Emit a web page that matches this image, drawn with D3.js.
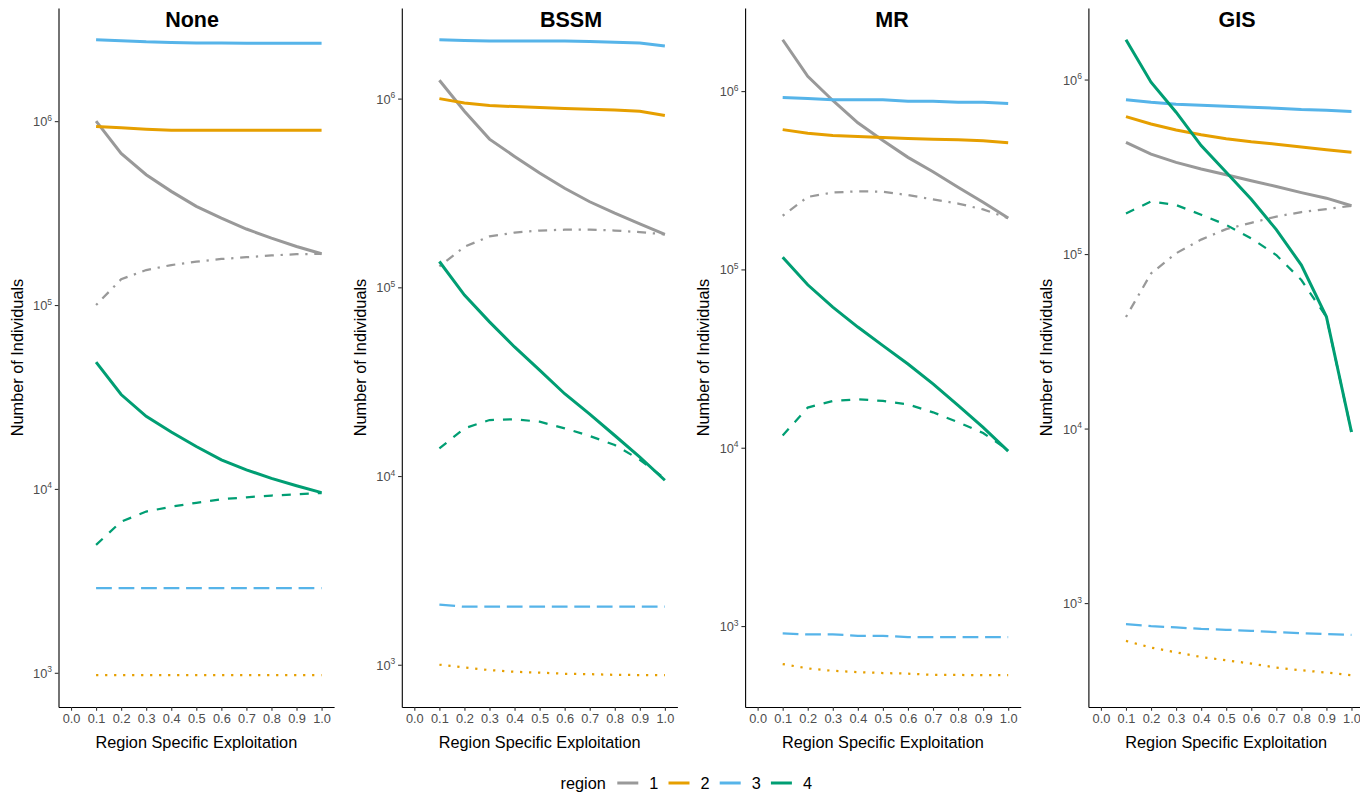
<!DOCTYPE html>
<html>
<head>
<meta charset="utf-8">
<script src="https://cdn.jsdelivr.net/npm/d3@7"></script>
<style>
  html, body { margin: 0; padding: 0; background: #fff; }
  svg { display: block; font-family: "Liberation Sans", Arial, sans-serif; }
</style>
</head>
<body>
<div id="chart"></div>
<script>
// ---------------- DATA ----------------
const exploitation = [0.1, 0.2, 0.3, 0.4, 0.5, 0.6, 0.7, 0.8, 0.9, 1.0];
const xTickValues = [0.0, 0.1, 0.2, 0.3, 0.4, 0.5, 0.6, 0.7, 0.8, 0.9, 1.0];
const panelNames = ["None", "BSSM", "MR", "GIS"];
const regions = ["1", "2", "3", "4"];
const regionColors = ["#999999", "#E69F00", "#56B4E9", "#009E73"];
const legendTitle = "region";
const xTitle = "Region Specific Exploitation";
const yTitle = "Number of Individuals";

// None
const none_solid_1 = [1.00e6, 6.67e5, 5.11e5, 4.15e5, 3.44e5, 2.97e5, 2.59e5, 2.31e5, 2.08e5, 1.90e5];
const none_pattern_1 = [1.00e5, 1.38e5, 1.55e5, 1.65e5, 1.72e5, 1.78e5, 1.82e5, 1.86e5, 1.89e5, 1.90e5];
const none_solid_2 = [9.36e5, 9.20e5, 9.04e5, 8.93e5, 8.93e5, 8.93e5, 8.93e5, 8.93e5, 8.93e5, 8.93e5];
const none_pattern_2 = [970, 970, 970, 970, 970, 970, 970, 970, 970, 970];
const none_solid_3 = [2.77e6, 2.74e6, 2.70e6, 2.68e6, 2.66e6, 2.66e6, 2.65e6, 2.65e6, 2.65e6, 2.65e6];
const none_pattern_3 = [2890, 2890, 2890, 2890, 2890, 2890, 2890, 2890, 2890, 2890];
const none_solid_4 = [4.89e4, 3.26e4, 2.48e4, 2.04e4, 1.70e4, 1.44e4, 1.27e4, 1.14e4, 1.04e4, 9.55e3];
const none_pattern_4 = [4.96e3, 6.64e3, 7.53e3, 8.00e3, 8.40e3, 8.79e3, 9.00e3, 9.20e3, 9.35e3, 9.50e3];

// BSSM
const bssm_solid_1 = [1.25e6, 8.57e5, 6.10e5, 4.94e5, 4.03e5, 3.35e5, 2.84e5, 2.47e5, 2.17e5, 1.91e5];
const bssm_pattern_1 = [1.29e5, 1.64e5, 1.86e5, 1.95e5, 2.00e5, 2.02e5, 2.02e5, 2.00e5, 1.96e5, 1.91e5];
const bssm_solid_2 = [1.00e6, 9.49e5, 9.20e5, 9.07e5, 8.97e5, 8.86e5, 8.78e5, 8.71e5, 8.57e5, 8.13e5];
const bssm_pattern_2 = [1000, 968, 937, 918, 908, 896, 892, 884, 882, 880];
const bssm_solid_3 = [2.05e6, 2.03e6, 2.02e6, 2.02e6, 2.02e6, 2.02e6, 2.01e6, 1.99e6, 1.97e6, 1.90e6];
const bssm_pattern_3 = [2080, 2030, 2030, 2030, 2030, 2030, 2030, 2030, 2030, 2030];
const bssm_solid_4 = [1.37e5, 9.10e4, 6.56e4, 4.83e4, 3.64e4, 2.73e4, 2.13e4, 1.64e4, 1.26e4, 9.50e3];
const bssm_pattern_4 = [1.40e4, 1.79e4, 1.98e4, 2.00e4, 1.94e4, 1.79e4, 1.63e4, 1.46e4, 1.22e4, 9.70e3];

// MR
const mr_solid_1 = [1.94e6, 1.21e6, 8.86e5, 6.64e5, 5.28e5, 4.25e5, 3.53e5, 2.89e5, 2.38e5, 1.94e5];
const mr_pattern_1 = [2.00e5, 2.55e5, 2.70e5, 2.74e5, 2.73e5, 2.61e5, 2.47e5, 2.34e5, 2.17e5, 1.94e5];
const mr_solid_2 = [6.08e5, 5.80e5, 5.64e5, 5.56e5, 5.49e5, 5.42e5, 5.37e5, 5.33e5, 5.26e5, 5.14e5];
const mr_pattern_2 = [612, 579, 561, 552, 545, 541, 532, 532, 530, 530];
const mr_solid_3 = [9.20e5, 9.10e5, 8.94e5, 8.94e5, 8.94e5, 8.78e5, 8.78e5, 8.67e5, 8.67e5, 8.52e5];
const mr_pattern_3 = [910, 898, 898, 882, 882, 867, 867, 867, 867, 867];
const mr_solid_4 = [1.17e5, 8.20e4, 6.15e4, 4.75e4, 3.74e4, 2.95e4, 2.28e4, 1.73e4, 1.30e4, 9.57e3];
const mr_pattern_4 = [1.17e4, 1.68e4, 1.83e4, 1.87e4, 1.83e4, 1.75e4, 1.58e4, 1.39e4, 1.21e4, 9.70e3];

// GIS
const gis_solid_1 = [4.37e5, 3.74e5, 3.35e5, 3.07e5, 2.85e5, 2.63e5, 2.44e5, 2.25e5, 2.09e5, 1.89e5];
const gis_pattern_1 = [4.36e4, 7.74e4, 1.01e5, 1.21e5, 1.39e5, 1.51e5, 1.64e5, 1.74e5, 1.81e5, 1.89e5];
const gis_solid_2 = [6.13e5, 5.56e5, 5.14e5, 4.83e5, 4.58e5, 4.40e5, 4.26e5, 4.11e5, 3.96e5, 3.83e5];
const gis_pattern_2 = [607, 556, 522, 491, 470, 450, 427, 412, 400, 386];
const gis_solid_3 = [7.67e5, 7.41e5, 7.22e5, 7.13e5, 7.04e5, 6.94e5, 6.85e5, 6.73e5, 6.67e5, 6.55e5];
const gis_pattern_3 = [757, 738, 725, 711, 703, 694, 681, 672, 664, 658];
const gis_solid_4 = [1.69e6, 9.66e5, 6.50e5, 4.18e5, 2.94e5, 2.06e5, 1.38e5, 8.65e4, 4.37e4, 9.56e3];
const gis_pattern_4 = [1.71e5, 2.00e5, 1.91e5, 1.68e5, 1.47e5, 1.23e5, 9.87e4, 7.10e4, 4.36e4, 9.56e3];

const panelSolid = [
  [none_solid_1, none_solid_2, none_solid_3, none_solid_4],
  [bssm_solid_1, bssm_solid_2, bssm_solid_3, bssm_solid_4],
  [mr_solid_1, mr_solid_2, mr_solid_3, mr_solid_4],
  [gis_solid_1, gis_solid_2, gis_solid_3, gis_solid_4]
];
const panelPattern = [
  [none_pattern_1, none_pattern_2, none_pattern_3, none_pattern_4],
  [bssm_pattern_1, bssm_pattern_2, bssm_pattern_3, bssm_pattern_4],
  [mr_pattern_1, mr_pattern_2, mr_pattern_3, mr_pattern_4],
  [gis_pattern_1, gis_pattern_2, gis_pattern_3, gis_pattern_4]
];

// ---------------- LAYOUT / STYLE ----------------
const W = 1360, H = 796;
const plotTop = 8, plotBottom = 707;
const panelStride = 343.3, firstLeft = 58.5, panelWidth = 275.6;
const titleCenters = [192, 571, 892, 1237];
const patternDash = ["2.25,6.75,9,6.75", "2.25,6.75", "15.75,6.75", "9,9"];
const tickColor = "#4D4D4D";

const svg = d3.select("#chart").append("svg")
  .attr("width", W).attr("height", H).attr("viewBox", `0 0 ${W} ${H}`);

panelNames.forEach((name, p) => {
  const left = firstLeft + panelStride * p;
  const g = svg.append("g");

  const x = d3.scaleLinear().domain([-0.05, 1.05]).range([left, left + panelWidth]);

  const allVals = panelSolid[p].flat().concat(panelPattern[p].flat());
  const lo = Math.log10(d3.min(allVals)), hi = Math.log10(d3.max(allVals));
  const pad = (hi - lo) * 0.05;
  const y = d3.scaleLog().domain([Math.pow(10, lo - pad), Math.pow(10, hi + pad)]).range([plotBottom, plotTop]);

  // lines
  const line = d3.line().x((d, i) => x(exploitation[i])).y(d => y(d));
  regions.forEach((r, ri) => {
    g.append("path")
      .attr("d", line(panelPattern[p][ri]))
      .attr("fill", "none")
      .attr("stroke", regionColors[ri])
      .attr("stroke-width", 2.25)
      .attr("stroke-dasharray", patternDash[ri]);
  });
  regions.forEach((r, ri) => {
    g.append("path")
      .attr("d", line(panelSolid[p][ri]))
      .attr("fill", "none")
      .attr("stroke", regionColors[ri])
      .attr("stroke-width", 3);
  });

  // axes
  const xAxis = d3.axisBottom(x).tickValues(xTickValues).tickFormat(d3.format(".1f"))
    .tickSizeInner(3.7).tickSizeOuter(0).tickPadding(3);
  const xg = g.append("g").attr("transform", `translate(0,${plotBottom})`).call(xAxis);
  xg.select(".domain").attr("stroke", "#000").attr("stroke-width", 1.1);
  xg.selectAll(".tick line").attr("stroke", "#333").attr("stroke-width", 1.1);
  xg.selectAll(".tick text").attr("fill", tickColor).attr("font-size", 12.8)
    .attr("font-family", "Liberation Sans, Arial, sans-serif");

  const [d0, d1] = y.domain();
  const decades = d3.range(Math.ceil(Math.log10(d0)), Math.floor(Math.log10(d1)) + 1).map(e => Math.pow(10, e));
  const yAxis = d3.axisLeft(y).tickValues(decades).tickFormat("").tickSizeInner(3.7).tickSizeOuter(0);
  const yg = g.append("g").attr("transform", `translate(${left},0)`).call(yAxis);
  yg.select(".domain").attr("stroke", "#000").attr("stroke-width", 1.1);
  yg.selectAll(".tick line").attr("stroke", "#333").attr("stroke-width", 1.1);
  yg.selectAll(".tick").each(function(d) {
    const t = d3.select(this).append("text")
      .attr("x", -6.5).attr("y", 4.5)
      .attr("text-anchor", "end")
      .attr("fill", tickColor)
      .attr("font-size", 12.8);
    t.append("tspan").text("10");
    t.append("tspan").attr("dy", -5.5).attr("font-size", 8.5).text(String(Math.round(Math.log10(d))));
  });

  // titles
  g.append("text").attr("x", titleCenters[p]).attr("y", 26.5)
    .attr("text-anchor", "middle").attr("font-weight", "bold").attr("font-size", 21.5)
    .attr("fill", "#000").text(name);
  g.append("text").attr("x", left + panelWidth / 2).attr("y", 748)
    .attr("text-anchor", "middle").attr("font-size", 16.3).attr("fill", "#000").text(xTitle);
  g.append("text")
    .attr("transform", `translate(${left - 36},${(plotTop + plotBottom) / 2}) rotate(-90)`)
    .attr("text-anchor", "middle").attr("font-size", 16.3).attr("fill", "#000").text(yTitle);
});

// legend
const lg = svg.append("g");
lg.append("text").attr("x", 560.5).attr("y", 789).attr("font-size", 16.3).attr("fill", "#000").text(legendTitle);
regions.forEach((r, i) => {
  const kx = 617.3 + 51.2 * i;
  lg.append("line").attr("x1", kx).attr("x2", kx + 21).attr("y1", 783).attr("y2", 783)
    .attr("stroke", regionColors[i]).attr("stroke-width", 3);
  lg.append("text").attr("x", kx + 32).attr("y", 789).attr("font-size", 16.3).attr("fill", "#000").text(r);
});
</script>
</body>
</html>
